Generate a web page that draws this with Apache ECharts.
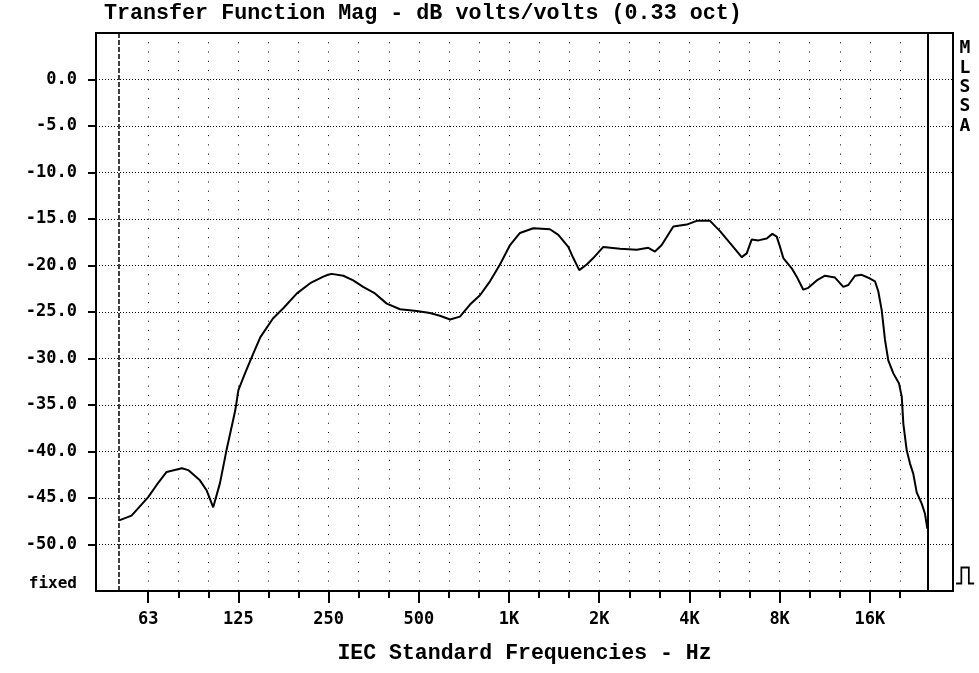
<!DOCTYPE html>
<html>
<head>
<meta charset="utf-8">
<script src="https://cdn.jsdelivr.net/npm/echarts@6/dist/echarts.min.js"></script>
<style>
html, body { margin: 0; padding: 0; background: #fff; }
#chart { width: 979px; height: 673px; }
</style>
</head>
<body>
<div id="chart"></div>
<script>
// transfer function magnitude (Hz / dB)
const freqHz = [
  50, 55, 62.5, 66.7, 72, 81, 85, 93, 98, 103, 108.5, 114, 122, 125, 131.5, 140, 148,
  163, 176.5, 196, 217, 240, 249, 256, 280, 302, 326, 357, 391, 433, 492, 545, 588,
  636, 686, 741, 800, 864, 933, 1008, 1088, 1205, 1370, 1461, 1577, 1639, 1716, 1817,
  1911, 2064, 2347, 2668, 2917, 3071, 3233, 3535, 3918, 4230, 4687, 5060, 5537, 5979,
  6213, 6457, 6793, 7245, 7564, 7824, 8025, 8231, 8779, 9124, 9599, 9974, 10640, 11340,
  12245, 13051, 13563, 14279, 15034, 16025, 16652, 17080, 17530, 17980, 18440, 19170,
  20030, 20450, 20700, 21250, 21790, 22350, 22940, 23840, 24450, 24890
];
const magDb = [
  -47.4, -46.9, -44.9, -43.6, -42.2, -41.8, -42.0, -43.1, -44.2, -46.0, -43.4, -39.9, -35.6, -33.4, -31.6, -29.5, -27.7,
  -25.7, -24.6, -23.0, -21.9, -21.2, -21.0, -20.9, -21.1, -21.6, -22.3, -23.0, -24.1, -24.7, -24.9, -25.1, -25.4,
  -25.8, -25.5, -24.2, -23.2, -21.7, -19.9, -17.8, -16.5, -16.0, -16.1, -16.7, -18.0, -19.2, -20.5, -19.9,
  -19.2, -18.0, -18.2, -18.3, -18.1, -18.5, -17.8, -15.8, -15.6, -15.2, -15.2, -16.3, -17.8, -19.1,
  -18.7, -17.2, -17.3, -17.1, -16.6, -16.9, -18.0, -19.2, -20.3, -21.2, -22.6, -22.4, -21.6, -21.1,
  -21.3, -22.3, -22.1, -21.1, -21.0, -21.4, -21.7, -22.8, -24.8, -28.0, -30.2, -31.6,
  -32.7, -34.1, -37.0, -39.9, -41.3, -42.4, -44.4, -45.6, -46.7, -48.3
];

// x axis: third-octave grid, octave labels
const thirdOctaveTicks = [
  62.5, 78.75, 99.2, 125, 157.5, 198.4, 250, 315, 396.9, 500, 630, 793.7,
  1000, 1260, 1587, 2000, 2520, 3175, 4000, 5040, 6350, 8000, 10080, 12700, 16000, 20160
];
const octaveTicks = [62.5, 125, 250, 500, 1000, 2000, 4000, 8000, 16000];
const octaveLabels = ['63', '125', '250', '500', '1K', '2K', '4K', '8K', '16K'];
const freqMin = 41.85;
const freqMax = 30320;
const startHz = 50;
const endHz = 25000;

// y axis
const dbTicks = [-50, -45, -40, -35, -30, -25, -20, -15, -10, -5, 0];
const dbLabelValues = [-55, -50, -45, -40, -35, -30, -25, -20, -15, -10, -5, 0];
const dbMin = -55;
const dbMax = 5;

const sideLetters = ['M', 'L', 'S', 'S', 'A'];

const labelFont = 'DejaVu Sans Mono';
const titleFont = 'Liberation Mono';

const chart = echarts.init(document.getElementById('chart'), null, { renderer: 'canvas' });

const points = freqHz.map((f, i) => [f, magDb[i]]);

chart.setOption({
  backgroundColor: '#fff',
  animation: false,
  title: {
    text: 'Transfer Function Mag - dB volts/volts (0.33 oct)',
    left: 104,
    top: 3,
    padding: 0,
    textStyle: { fontFamily: titleFont, fontWeight: 'bold', fontSize: 21.7, color: '#000' }
  },
  grid: {
    left: 96, top: 33, right: 26, bottom: 82,
    show: true, borderColor: '#000', borderWidth: 2, backgroundColor: 'transparent'
  },
  xAxis: [
    {
      type: 'log', min: freqMin, max: freqMax,
      position: 'bottom',
      axisLine: { show: false, onZero: false },
      axisTick: { show: true, inside: false, length: 7, customValues: thirdOctaveTicks,
        lineStyle: { color: '#000', width: 2 } },
      axisLabel: { show: false },
      splitLine: { show: true, lineStyle: { color: '#000', width: 1, type: [1, 8.28] } },
      minorSplitLine: { show: false }
    },
    {
      type: 'log', min: freqMin, max: freqMax,
      position: 'bottom',
      axisLine: { show: false, onZero: false },
      axisTick: { show: true, inside: false, length: 12, customValues: octaveTicks,
        lineStyle: { color: '#000', width: 2 } },
      axisLabel: {
        customValues: octaveTicks,
        margin: 20,
        fontFamily: labelFont, fontWeight: 'bold', fontSize: 17, color: '#000',
        formatter: (v) => {
          let best = 0;
          octaveTicks.forEach((t, i) => {
            if (Math.abs(Math.log(t / v)) < Math.abs(Math.log(octaveTicks[best] / v))) best = i;
          });
          return octaveLabels[best];
        }
      },
      splitLine: { show: false },
      name: 'IEC Standard Frequencies - Hz',
      nameLocation: 'middle',
      nameGap: 52,
      nameTextStyle: { fontFamily: titleFont, fontWeight: 'bold', fontSize: 21.5, color: '#000' }
    }
  ],
  yAxis: {
    type: 'value', min: dbMin, max: dbMax,
    axisLine: { show: false, onZero: false },
    axisTick: { show: true, inside: false, length: 8, customValues: dbTicks,
      lineStyle: { color: '#000', width: 2 } },
    axisLabel: {
      customValues: dbLabelValues,
      margin: 19,
      fontFamily: labelFont, fontWeight: 'bold', fontSize: 17, color: '#000',
      formatter: (v) => (v === dbMin ? '{f|fixed}' : v.toFixed(1)),
      rich: { f: { fontFamily: labelFont, fontWeight: 'bold', fontSize: 16, color: '#000', padding: [0, 0, 14, 0] } }
    },
    splitLine: { show: true, lineStyle: { color: '#000', width: 1, type: [1, 2] } }
  },
  graphic: [
    {
      type: 'text',
      style: {
        x: 965, y: 39,
        text: sideLetters.join('\n'),
        align: 'center', verticalAlign: 'top',
        lineHeight: 19.3,
        font: 'bold 18px "' + labelFont + '"',
        fill: '#000'
      }
    },
    {
      type: 'text',
      style: {
        x: 965, y: 577,
        text: '\u238D',
        align: 'center', verticalAlign: 'middle',
        font: 'bold 26px "DejaVu Sans"',
        fill: '#000'
      }
    }
  ],
  series: [
    {
      type: 'line',
      xAxisIndex: 0,
      yAxisIndex: 0,
      data: points,
      showSymbol: false,
      symbol: 'none',
      lineStyle: { color: '#000', width: 2 },
      markLine: {
        silent: true,
        symbol: ['none', 'none'],
        label: { show: false },
        data: [
          { xAxis: startHz, lineStyle: { color: '#000', width: 1.5, type: [5, 2] } },
          { xAxis: endHz, lineStyle: { color: '#000', width: 2, type: 'solid' } }
        ]
      }
    }
  ]
});
</script>
</body>
</html>
